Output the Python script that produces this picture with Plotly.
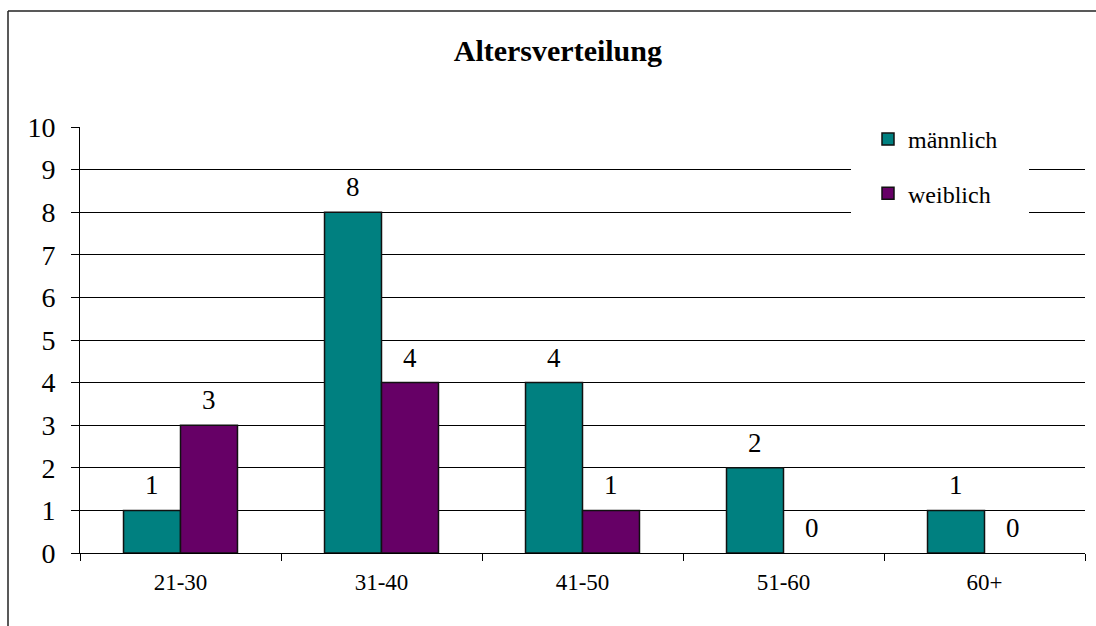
import plotly.graph_objects as go

# Data
categories = ["21-30", "31-40", "41-50", "51-60", "60+"]
maennlich = [1, 8, 4, 2, 1]
weiblich = [3, 4, 1, 0, 0]
series_names = ["männlich", "weiblich"]
y_ticks = list(range(0, 11))

# Page geometry (pixels)
W, H = 1096, 626
M_L, M_R, M_T, M_B = 80, 11, 127, 73
PW, PH = W - M_L - M_R, H - M_T - M_B

FONT = "Liberation Serif"
TEAL = "#008080"
PURPLE = "#660066"
BARGAP = 0.433


def px_x(p):
    """Pixel column -> paper x."""
    return (p - M_L) / PW


def px_y(p):
    """Pixel row -> paper y."""
    return (H - M_B - p) / PH


fig = go.Figure()
for name, vals, col, grp in [(series_names[0], maennlich, TEAL, "m"),
                             (series_names[1], weiblich, PURPLE, "w")]:
    fig.add_trace(go.Bar(
        x=categories, y=vals, name=name, legendgroup=grp,
        marker=dict(color=col,
                    line=dict(color="#111111",
                              width=[1.5 if v else 0 for v in vals])),
    ))

# Value labels above each bar
offset = (1 - BARGAP) / 4
for i, cat in enumerate(categories):
    for vals, sgn in [(maennlich, -1), (weiblich, 1)]:
        fig.add_annotation(
            x=i + sgn * offset, y=vals[i], xref="x", yref="y",
            text=str(vals[i]), showarrow=False,
            yanchor="bottom", yshift=8,
            font=dict(family=FONT, size=27, color="black"),
        )

# White panel behind the legend, over the gridlines
fig.add_shape(type="rect", xref="paper", yref="paper",
              x0=px_x(851), x1=px_x(1029), y0=px_y(220), y1=px_y(118),
              fillcolor="white", line=dict(width=0), layer="above")

# Outer frame (left and top edges)
fig.add_shape(type="line", xref="paper", yref="paper",
              x0=px_x(8), x1=px_x(8), y0=px_y(11), y1=px_y(H + 5),
              line=dict(color="#222222", width=1.5))
fig.add_shape(type="line", xref="paper", yref="paper",
              x0=px_x(8), x1=px_x(W + 5), y0=px_y(11), y1=px_y(11),
              line=dict(color="#222222", width=1.5))

fig.update_layout(
    width=W, height=H,
    margin=dict(l=M_L, r=M_R, t=M_T, b=M_B),
    paper_bgcolor="white", plot_bgcolor="white",
    barmode="group", bargap=BARGAP, bargroupgap=0,
    font=dict(family=FONT, color="black"),
    title=dict(text="<b>Altersverteilung</b>", x=0.509, xanchor="center",
               y=1 - 50 / H, yanchor="middle",
               font=dict(family=FONT, size=30, color="black")),
    legend=dict(x=px_x(868), xanchor="left", y=px_y(117), yanchor="top",
                bgcolor="rgba(0,0,0,0)", borderwidth=0,
                font=dict(family=FONT, size=24, color="black"),
                tracegroupgap=20, traceorder="grouped"),
    xaxis=dict(type="category", showline=True, linecolor="black", linewidth=1,
               ticks="outside", tickson="boundaries", ticklen=7,
               tickcolor="black", showgrid=False,
               tickfont=dict(family=FONT, size=23, color="black"),
               ticklabelstandoff=8),
    yaxis=dict(range=[0, 10], tickvals=y_ticks, showline=True,
               linecolor="black", linewidth=1, ticks="outside", ticklen=8,
               tickcolor="black", showgrid=True, gridcolor="black",
               gridwidth=1, zeroline=False,
               tickfont=dict(family=FONT, size=28, color="black"),
               ticklabelstandoff=10),
)

fig.write_html("out.html")
